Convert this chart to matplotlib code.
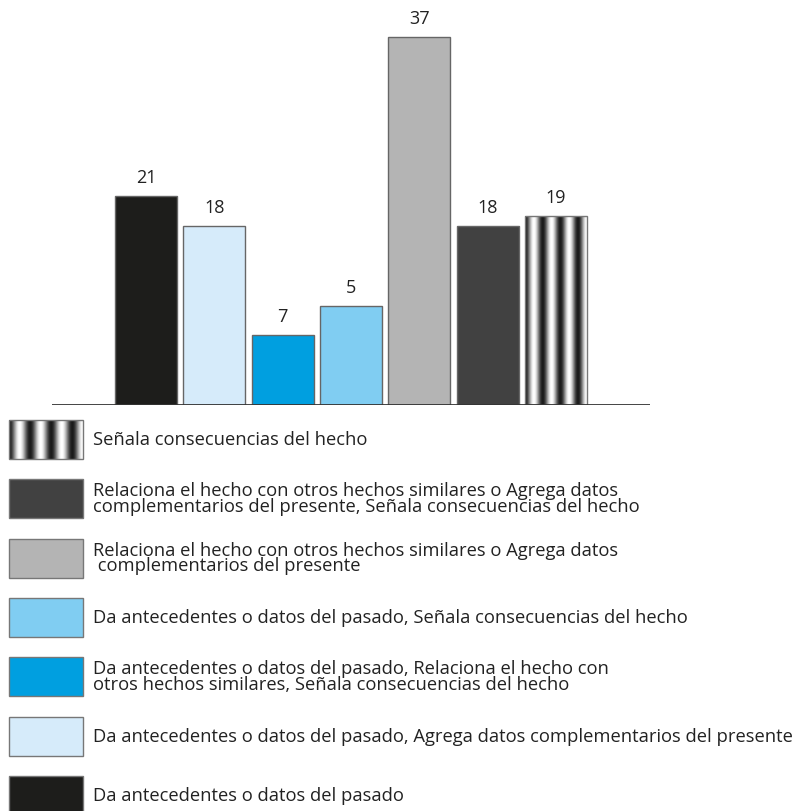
import numpy as np
import matplotlib
matplotlib.use("Agg")
from matplotlib import pyplot as plt
from matplotlib.patches import Rectangle

plt.rcParams['font.family'] = ['Open Sans', 'DejaVu Sans']

# data (bar heights as drawn, labels as printed)
categories = [
    "Da antecedentes o datos del pasado",
    "Da antecedentes o datos del pasado, Agrega datos complementarios del presente",
    "Da antecedentes o datos del pasado, Relaciona el hecho con\notros hechos similares, Señala consecuencias del hecho",
    "Da antecedentes o datos del pasado, Señala consecuencias del hecho",
    "Relaciona el hecho con otros hechos similares o Agrega datos\n complementarios del presente",
    "Relaciona el hecho con otros hechos similares o Agrega datos\ncomplementarios del presente, Señala consecuencias del hecho",
    "Señala consecuencias del hecho",
]
heights = [21, 18, 7, 10, 37, 18, 19]
value_labels = ["21", "18", "7", "5", "37", "18", "19"]
colors = ["#1d1d1b", "#d6ebfa", "#009fe0", "#80cdf2", "#b4b4b4", "#414141", None]

W, H = 810, 811
fig = plt.figure(figsize=(W / 100, H / 100), dpi=100)

# stripe texture for the last category (dark at left edge, white at right)
t = np.linspace(0, 1, 300)
stripe = np.tile(0.5 - 0.5 * np.cos(2 * np.pi * 3.5 * t), (2, 1))


def striped(ax, x0, y0, w, h, flip=False):
    rect = Rectangle((x0, y0), w, h, facecolor='none', edgecolor='#777777', lw=1.0, zorder=3)
    ax.add_patch(rect)
    ext = (x0, x0 + w, y0 + h, y0) if flip else (x0, x0 + w, y0, y0 + h)
    im = ax.imshow(stripe, cmap='gray', vmin=-0.12, vmax=1.0, aspect='auto',
                   extent=ext, interpolation='bilinear', zorder=2)
    im.set_clip_path(rect)


# bar chart
ax = fig.add_axes([52 / W, 1 - 405 / H, (650 - 52) / W, 398 / H])
bw = 0.905
for i, (h, c) in enumerate(zip(heights, colors)):
    if c is None:
        striped(ax, i - bw / 2, 0, bw, h)
    else:
        ax.bar(i, h, width=bw, color=c, edgecolor='#666666', linewidth=1.0, zorder=2)
    ax.text(i, h + 0.9, value_labels[i], ha='center', va='bottom', fontsize=13, color='#222222')
ax.set_xlim(-1.374, 7.374)
ax.set_ylim(0, 40)
ax.axhline(0, color='#333333', lw=2, zorder=4)
ax.axis('off')

# legend drawn by hand, top row = last category
lax = fig.add_axes([0, 0, 1, 1])
lax.set_xlim(0, W)
lax.set_ylim(H, 0)
lax.axis('off')
for row, k in enumerate(range(len(categories) - 1, -1, -1)):
    top = 420 + row * 59.3
    if colors[k] is None:
        striped(lax, 9, top, 74, 39, flip=True)
    else:
        lax.add_patch(Rectangle((9, top), 74, 39, facecolor=colors[k], edgecolor='#777777', lw=1.0))
    lax.text(93, top + 20, categories[k], ha='left', va='center', fontsize=13.2,
             color='#222222', linespacing=0.84)

fig.savefig("out.png", dpi=100)
